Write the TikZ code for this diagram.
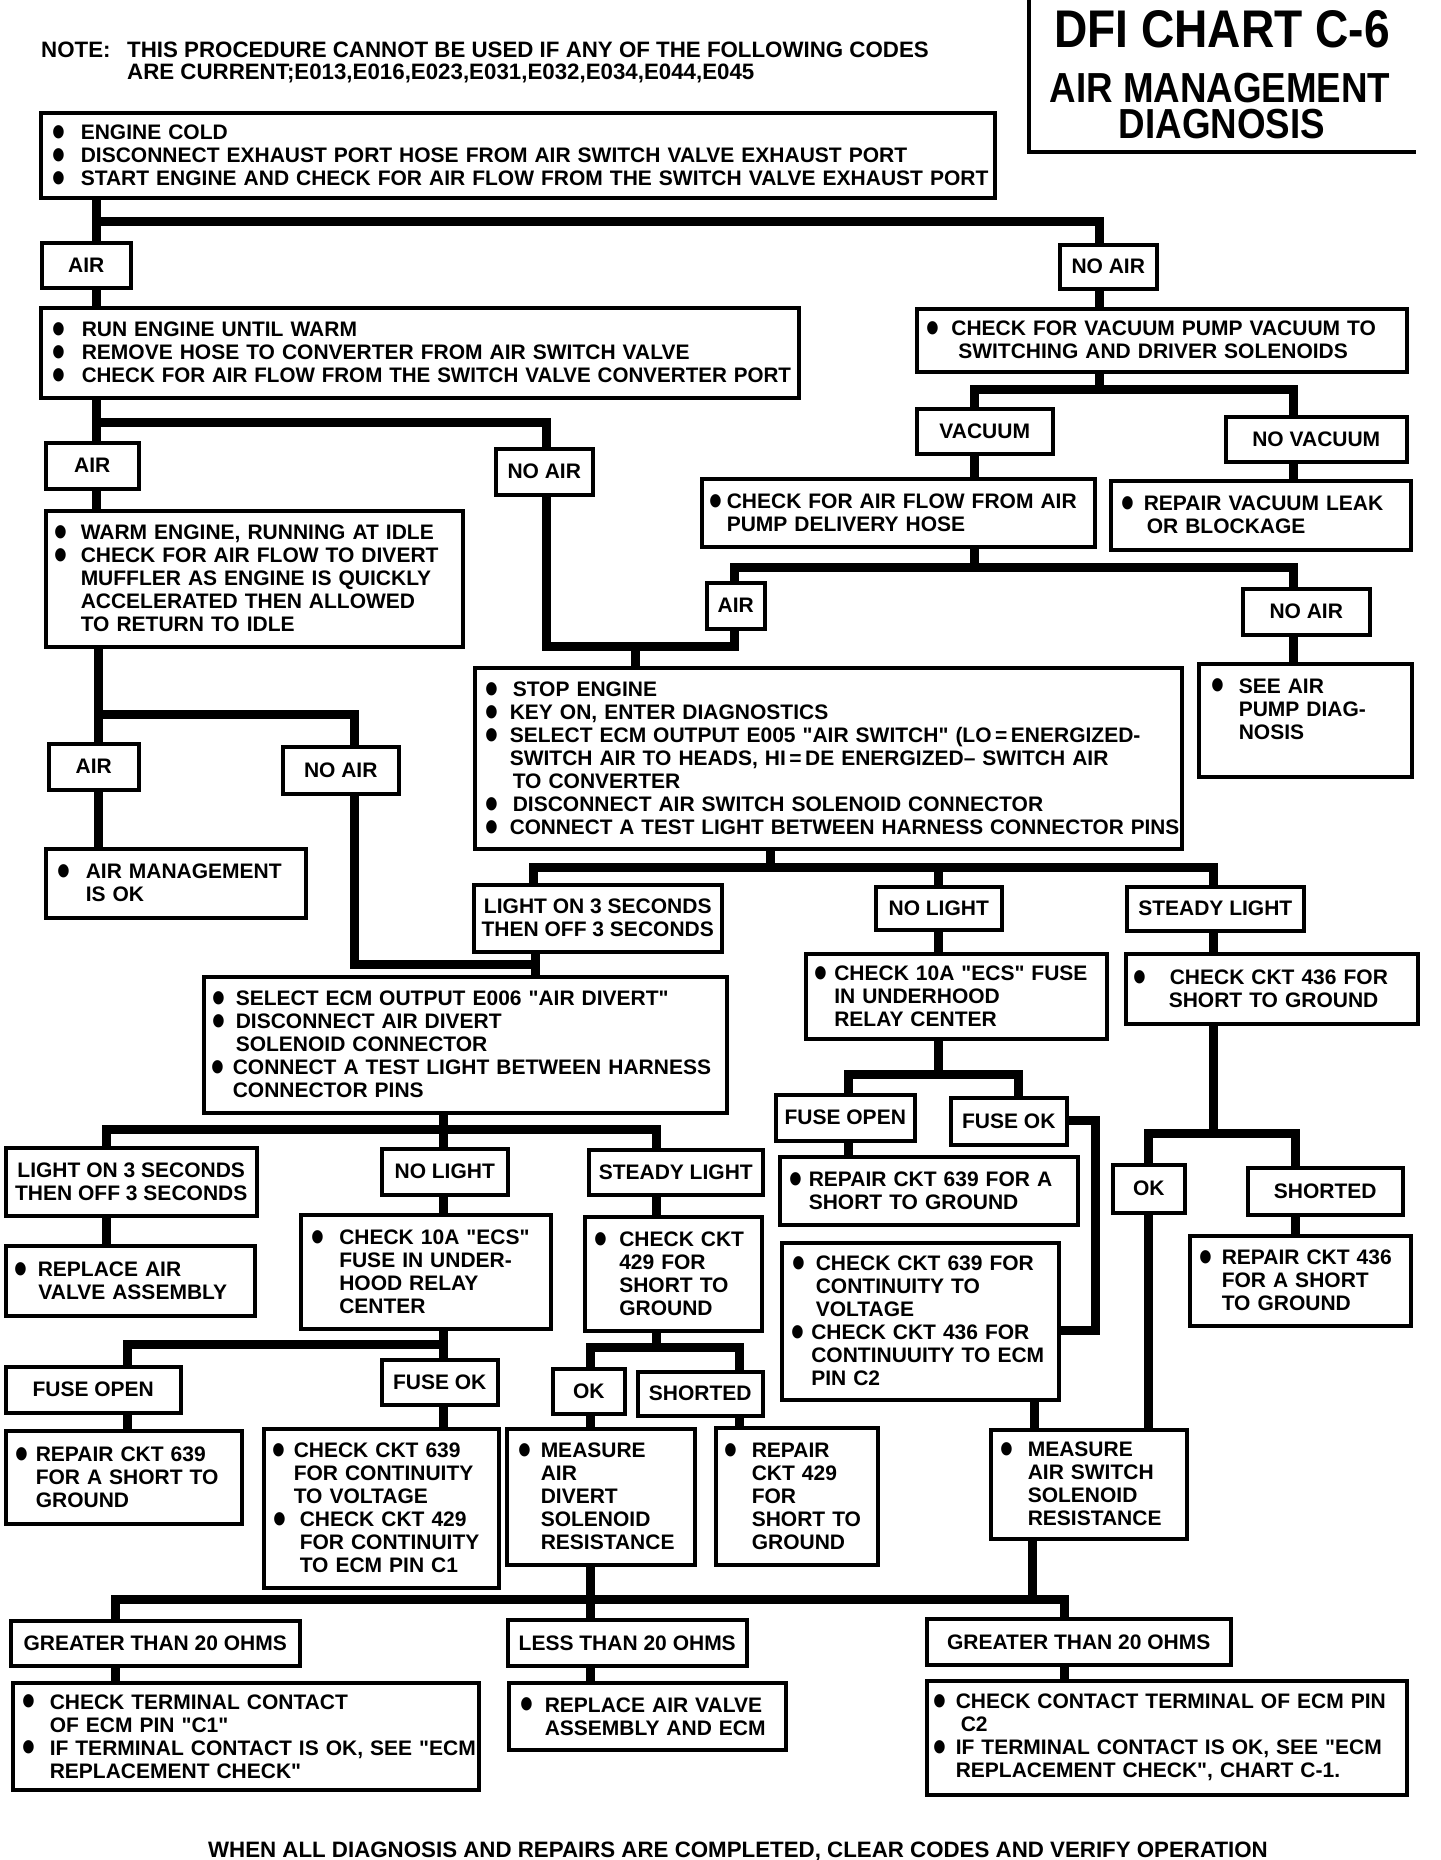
\documentclass[tikz,border=0pt]{standalone}
\usepackage{fontspec}
\setmainfont{Liberation Sans}[Ligatures=TeXOff]
\usepackage{graphicx}

\newcommand\boxfont{\bfseries\fontsize{21}{23}\selectfont}
\newcommand\blt{\smash{\raisebox{-0.37em}{\scalebox{1.75}[2.2]{\textbullet}}}}
\newcommand\itm[3]{\hspace*{#1pt}\makebox[10pt]{\blt}\hspace*{#2pt}\mbox{#3}}
\newcommand\ind[2]{\hspace*{#1pt}\mbox{#2}}

\begin{document}
\begin{tikzpicture}[x=1pt, y=-1pt,
  box/.style={draw, line width=3.5pt, anchor=north west, inner sep=0pt, align=left, font=\boxfont},
  lab/.style={draw, line width=3.5pt, anchor=north west, inner sep=0pt, align=center, font=\boxfont},
  link/.style={line width=9pt}]
\useasboundingbox (0,0) rectangle (1440,1860);

% Cabecera
\node[anchor=north west, inner sep=0pt, align=left, font=\bfseries\fontsize{22.3}{22}\selectfont] (note) at (41,42)
  {\makebox[86pt][l]{NOTE:}THIS PROCEDURE CANNOT BE USED IF ANY OF THE FOLLOWING CODES\\
   \ind{86}{ARE CURRENT;E013,E016,E023,E031,E032,E034,E044,E045}};
\draw[line width=4pt] (1029,0) -- (1029,152) -- (1416,152);
\node[anchor=base, inner sep=0pt, font=\bfseries\fontsize{53}{53}\selectfont] (title) at (1222,48) {\scalebox{0.87}[1]{DFI CHART C-6}};
\node[anchor=base, inner sep=0pt, font=\bfseries\fontsize{42}{42}\selectfont] (title2) at (1220,102) {\scalebox{0.875}[1]{AIR MANAGEMENT}};
\node[anchor=base, inner sep=0pt, font=\bfseries\fontsize{42}{42}\selectfont] (title3) at (1222,138) {\scalebox{0.875}[1]{DIAGNOSIS}};

% Cajas de resultado
\foreach \n/\x/\y/\w/\h/\t in {
    air1/40/241/89/45/AIR, noair1/1058/243/97/44/NO AIR,
    vac/915/407/136/45/VACUUM, novac/1224/415/181/45/NO VACUUM,
    air2/44/441/93/46/AIR, noair2/494/447/97/46/NO AIR,
    air4/705/581/58/46/AIR, noair4/1241/587/127/46/NO AIR,
    air3/47/742/90/46/AIR, noair3/281/745/116/47/NO AIR,
    light1/472/883/248/67/{LIGHT ON 3 SECONDS\\THEN OFF 3 SECONDS},
    nolight1/874/885/126/43/NO LIGHT, steady1/1125/885/177/44/STEADY LIGHT,
    fuseopen1/774/1093/139/46/FUSE OPEN, fuseok1/949/1096/116/47/FUSE OK,
    ok1/1111/1163/72/48/OK, shorted1/1246/1166/155/47/SHORTED,
    lighton2/4/1146/251/68/{LIGHT ON 3 SECONDS\\THEN OFF 3 SECONDS},
    nolight2/380/1147/126/46/NO LIGHT, steady2/587/1148/174/45/STEADY LIGHT,
    fuseopen2/4/1365/175/46/FUSE OPEN, fuseok2/380/1358/116/45/FUSE OK,
    ok2/551/1367/72/45/OK, shorted2/636/1370/125/44/SHORTED,
    gt1/9/1619/289/45/GREATER THAN 20 OHMS, lt/506/1618/239/46/LESS THAN 20 OHMS,
    gt2/925/1617/304/46/GREATER THAN 20 OHMS}
  \node[lab, minimum width=\w, minimum height=\h] (\n) at (\x,\y) {\t};

% Cajas de pasos
\node[box, text width=954pt, minimum height=85] (b1) at (39,111)
  {\itm{13}{17}{ENGINE COLD}\\
   \itm{13}{17}{DISCONNECT EXHAUST PORT HOSE FROM AIR SWITCH VALVE EXHAUST PORT}\\
   \itm{13}{17}{START ENGINE AND CHECK FOR AIR FLOW FROM THE SWITCH VALVE EXHAUST PORT}};
\node[box, text width=758pt, minimum height=90] (b2) at (39,306)
  {\itm{13}{18}{RUN ENGINE UNTIL WARM}\\
   \itm{13}{18}{REMOVE HOSE TO CONVERTER FROM AIR SWITCH VALVE}\\
   \itm{13}{18}{\scalebox{0.98}[1]{CHECK FOR AIR FLOW FROM THE SWITCH VALVE CONVERTER PORT}}};
\node[box, text width=490pt, minimum height=63] (b3) at (915,307)
  {\itm{11.6}{13}{CHECK FOR VACUUM PUMP VACUUM TO}\\
   \ind{41.5}{SWITCHING AND DRIVER SOLENOIDS}};
\node[box, text width=393pt, minimum height=68] (b6) at (700,477)
  {\itm{9}{6}{CHECK FOR AIR FLOW FROM AIR}\\
   \ind{25}{PUMP DELIVERY HOSE}};
\node[box, text width=300pt, minimum height=69] (b7) at (1109,479)
  {\itm{12}{11}{REPAIR VACUUM LEAK}\\
   \ind{36}{OR BLOCKAGE}};
\node[box, text width=417pt, minimum height=136] (b4) at (44,509)
  {\itm{10}{15}{WARM ENGINE, RUNNING AT IDLE}\\
   \itm{10}{15}{CHECK FOR AIR FLOW TO DIVERT}\\
   \ind{35}{MUFFLER AS ENGINE IS QUICKLY}\\
   \ind{35}{ACCELERATED THEN ALLOWED}\\
   \ind{35}{TO RETURN TO IDLE}};
\node[box, text width=213pt, minimum height=113] (seeair) at (1197,662)
  {\itm{14}{16}{SEE AIR}\\
   \ind{40}{PUMP DIAG-}\\
   \ind{40}{NOSIS}\\ \mbox{}};
\node[box, text width=707pt, minimum height=181] (b5) at (473,666)
  {\itm{12}{16}{STOP ENGINE}\\
   \itm{12}{13}{KEY ON, ENTER DIAGNOSTICS}\\
   \itm{12}{13}{SELECT ECM OUTPUT E005 "AIR SWITCH" (LO\,=\,ENERGIZED-}\\
   \ind{35}{SWITCH AIR TO HEADS, HI\,=\,DE ENERGIZED– SWITCH AIR}\\
   \ind{38}{TO CONVERTER}\\
   \itm{12}{16}{DISCONNECT AIR SWITCH SOLENOID CONNECTOR}\\
   \itm{12}{13}{\scalebox{0.99}[1]{CONNECT A TEST LIGHT BETWEEN HARNESS CONNECTOR PINS}}};
\node[box, text width=260pt, minimum height=69] (amok) at (44,847)
  {\itm{13}{17}{AIR MANAGEMENT}\\
   \ind{40}{IS OK}};
\node[box, text width=301pt, minimum height=85] (b10a1) at (804,952)
  {\itm{10}{8.5}{CHECK 10A "ECS" FUSE}\\
   \ind{28.5}{IN UNDERHOOD}\\
   \ind{28.5}{RELAY CENTER}};
\node[box, text width=292pt, minimum height=70] (b436) at (1124,952)
  {\itm{9}{25}{CHECK CKT 436 FOR}\\
   \ind{43}{SHORT TO GROUND}};
\node[box, text width=523pt, minimum height=136] (e006) at (202,975)
  {\itm{10}{12}{SELECT ECM OUTPUT E006 "AIR DIVERT"}\\
   \itm{10}{12}{DISCONNECT AIR DIVERT}\\
   \ind{32}{SOLENOID CONNECTOR}\\
   \itm{9}{10}{CONNECT A TEST LIGHT BETWEEN HARNESS}\\
   \ind{29}{CONNECTOR PINS}};
\node[box, text width=298pt, minimum height=68] (r639a) at (778,1155)
  {\itm{11}{8}{REPAIR CKT 639 FOR A}\\
   \ind{29}{SHORT TO GROUND}};
\node[box, text width=249pt, minimum height=70] (replav) at (4,1244)
  {\itm{10}{12}{REPLACE AIR}\\
   \ind{32.7}{VALVE ASSEMBLY}};
\node[box, text width=250pt, minimum height=114] (c10a2) at (299,1213)
  {\itm{12}{16.5}{CHECK 10A "ECS"}\\
   \ind{38.5}{FUSE IN UNDER-}\\
   \ind{38.5}{HOOD RELAY}\\
   \ind{38.5}{CENTER}};
\node[box, text width=177pt, minimum height=114] (c429) at (583,1215)
  {\itm{11}{13.5}{CHECK CKT}\\
   \ind{34.5}{429 FOR}\\
   \ind{34.5}{SHORT TO}\\
   \ind{34.5}{GROUND}};
\node[box, text width=221pt, minimum height=90] (r436) at (1188,1234)
  {\itm{11}{11}{REPAIR CKT 436}\\
   \ind{32}{FOR A SHORT}\\
   \ind{32}{TO GROUND}};
\node[box, text width=277pt, minimum height=157] (c639436) at (780,1241)
  {\itm{12}{12}{CHECK CKT 639 FOR}\\
   \ind{34}{CONTINUITY TO}\\
   \ind{34}{VOLTAGE}\\
   \itm{11}{8.5}{CHECK CKT 436 FOR}\\
   \ind{29.5}{CONTINUUITY TO ECM}\\
   \ind{29.5}{PIN C2}};
\node[box, text width=236pt, minimum height=93] (r639b) at (4,1429)
  {\itm{11}{9}{REPAIR CKT 639}\\
   \ind{30}{FOR A SHORT TO}\\
   \ind{30}{GROUND}};
\node[box, text width=235pt, minimum height=159] (c639429) at (262,1427)
  {\itm{10}{10}{CHECK CKT 639}\\
   \ind{30}{FOR CONTINUITY}\\
   \ind{30}{TO VOLTAGE}\\
   \itm{11}{15}{CHECK CKT 429}\\
   \ind{36}{FOR CONTINUITY}\\
   \ind{36}{TO ECM PIN C1}};
\node[box, text width=188pt, minimum height=136] (mad) at (505,1427)
  {\itm{13}{11}{MEASURE}\\
   \ind{34}{AIR}\\
   \ind{34}{DIVERT}\\
   \ind{34}{SOLENOID}\\
   \ind{34}{RESISTANCE}};
\node[box, text width=162pt, minimum height=137] (r429) at (714,1426)
  {\itm{10}{16}{REPAIR}\\
   \ind{36}{CKT 429}\\
   \ind{36}{FOR}\\
   \ind{36}{SHORT TO}\\
   \ind{36}{GROUND}};
\node[box, text width=196pt, minimum height=109] (mas) at (989,1428)
  {\itm{11}{16}{MEASURE}\\
   \ind{37}{AIR SWITCH}\\
   \ind{37}{SOLENOID}\\
   \ind{37}{RESISTANCE}};
\node[box, text width=466pt, minimum height=107] (ctc1) at (11,1681)
  {\itm{11.5}{15.5}{CHECK TERMINAL CONTACT}\\
   \ind{37}{OF ECM PIN "C1"}\\
   \itm{11.5}{15.5}{IF TERMINAL CONTACT IS OK, SEE "ECM}\\
   \ind{37}{REPLACEMENT CHECK"}};
\node[box, text width=277pt, minimum height=67] (rava) at (507,1681)
  {\itm{13}{13}{REPLACE AIR VALVE}\\
   \ind{36}{ASSEMBLY AND ECM}};
\node[box, text width=480pt, minimum height=114] (ctc2) at (925,1679)
  {\itm{8}{11}{CHECK CONTACT TERMINAL OF ECM PIN}\\
   \ind{34}{C2}\\
   \itm{8}{11}{IF TERMINAL CONTACT IS OK, SEE "ECM}\\
   \ind{29}{REPLACEMENT CHECK", CHART C-1.}};

\node[anchor=base, inner sep=0pt, font=\bfseries\fontsize{22.3}{22}\selectfont] (foot) at (738,1857)
  {WHEN ALL DIAGNOSIS AND REPAIRS ARE COMPLETED, CLEAR CODES AND VERIFY OPERATION};

% Uniones
\coordinate (j1a) at (96,221);   \coordinate (j1b) at (1099,221);
\coordinate (j2a) at (96,422);   \coordinate (j2b) at (546,422);
\coordinate (j3s) at (1099,389); \coordinate (j3a) at (974,389);  \coordinate (j3b) at (1293,389);
\coordinate (j4a) at (734,567);  \coordinate (j4b) at (1293,567);
\coordinate (j5a) at (546,646);  \coordinate (j5b) at (734,646);  \coordinate (j5s) at (635,646);
\coordinate (j6a) at (98,714);   \coordinate (j6b) at (354,714);
\coordinate (j7s) at (770,867);  \coordinate (j7a) at (533,867);  \coordinate (j7b) at (938,867);
\coordinate (j7c) at (1213,867);
\coordinate (j8a) at (354,964);  \coordinate (j8b) at (535,964);
\coordinate (j9a) at (106,1129); \coordinate (j9b) at (443,1129); \coordinate (j9c) at (656,1129);
\coordinate (j10a) at (127,1344); \coordinate (j10b) at (443,1344);
\coordinate (j11a) at (590,1347); \coordinate (j11b) at (739,1347);
\coordinate (j12a) at (848,1074); \coordinate (j12b) at (1018,1074);
\coordinate (j13a) at (1095,1120); \coordinate (j13b) at (1095,1330);
\coordinate (j14a) at (1148,1133); \coordinate (j14b) at (1295,1133);
\coordinate (j15) at (1034,1400);
\coordinate (j16a) at (115,1599); \coordinate (j16b) at (590,1599); \coordinate (j16c) at (1064,1599);
\coordinate (j16m) at (1032,1599);

\draw[link] (b1.south -| j1a) -- (air1.north -| j1a);
\draw[link] (j1a) -- (j1b) -- (noair1.north -| j1b);
\draw[link] (air1.south -| j1a) -- (b2.north -| j1a);
\draw[link] (noair1.south -| j1b) -- (b3.north -| j1b);

\draw[link] (b2.south -| j2a) -- (air2.north -| j2a);
\draw[link] (j2a) -- (j2b) -- (noair2.north -| j2b);
\draw[link] (air2.south -| j2a) -- (b4.north -| j2a);

\draw[link] (b3.south -| j3s) -- (j3s);
\draw[link] (vac.north -| j3a) -- (j3a) -- (j3b) -- (novac.north -| j3b);
\draw[link] (vac.south -| j3a) -- (b6.north -| j3a);
\draw[link] (novac.south -| j3b) -- (b7.north -| j3b);

\draw[link] (b6.south -| j3a) -- (j3a |- j4a);
\draw[link] (air4.north -| j4a) -- (j4a) -- (j4b) -- (noair4.north -| j4b);
\draw[link] (noair4.south -| j4b) -- (seeair.north -| j4b);

\draw[link] (noair2.south -| j5a) -- (j5a) -- (j5b) -- (air4.south -| j5b);
\draw[link] (j5s) -- (b5.north -| j5s);

\draw[link] (b4.south -| j6a) -- (air3.north -| j6a);
\draw[link] (j6a) -- (j6b) -- (noair3.north -| j6b);
\draw[link] (air3.south -| j6a) -- (amok.north -| j6a);

\draw[link] (b5.south -| j7s) -- (j7s);
\draw[link] (light1.north -| j7a) -- (j7a) -- (j7c) -- (steady1.north -| j7c);
\draw[link] (j7b) -- (nolight1.north -| j7b);
\draw[link] (nolight1.south -| j7b) -- (b10a1.north -| j7b);
\draw[link] (steady1.south -| j7c) -- (b436.north -| j7c);

\draw[link] (noair3.south -| j8a) -- (j8a) -- (j8b);
\draw[link] (light1.south -| j8b) -- (e006.north -| j8b);

\draw[link] (e006.south -| j9b) -- (nolight2.north -| j9b);
\draw[link] (lighton2.north -| j9a) -- (j9a) -- (j9c) -- (steady2.north -| j9c);
\draw[link] (lighton2.south -| j9a) -- (replav.north -| j9a);
\draw[link] (nolight2.south -| j9b) -- (c10a2.north -| j9b);
\draw[link] (steady2.south -| j9c) -- (c429.north -| j9c);

\draw[link] (c10a2.south -| j10b) -- (fuseok2.north -| j10b);
\draw[link] (j10b) -- (j10a) -- (fuseopen2.north -| j10a);
\draw[link] (fuseopen2.south -| j10a) -- (r639b.north -| j10a);
\draw[link] (fuseok2.south -| j10b) -- (c639429.north -| j10b);

\draw[link] (c429.south -| j9c) -- (j9c |- j11a);
\draw[link] (ok2.north -| j11a) -- (j11a) -- (j11b) -- (shorted2.north -| j11b);
\draw[link] (ok2.south -| j11a) -- (mad.north -| j11a);
\draw[link] (shorted2.south -| j11b) -- (r429.north -| j11b);

\draw[link] (b10a1.south -| j7b) -- (j7b |- j12a);
\draw[link] (fuseopen1.north -| j12a) -- (j12a) -- (j12b) -- (fuseok1.north -| j12b);
\draw[link] (fuseopen1.south -| j12a) -- (r639a.north -| j12a);
\draw[link] (fuseok1.east |- j13a) -- (j13a) -- (j13b) -- (c639436.east |- j13b);

\draw[link] (b436.south -| j7c) -- (j7c |- j14a);
\draw[link] (ok1.north -| j14a) -- (j14a) -- (j14b) -- (shorted1.north -| j14b);
\draw[link] (shorted1.south -| j14b) -- (r436.north -| j14b);
\draw[link] (ok1.south -| j14a) -- (mas.north -| j14a);
\draw[link] (c639436.south -| j15) -- (mas.north -| j15);

\draw[link] (mad.south -| j16b) -- (lt.north -| j16b);
\draw[link] (gt1.north -| j16a) -- (j16a) -- (j16c) -- (gt2.north -| j16c);
\draw[link] (mas.south -| j16m) -- (j16m);
\draw[link] (gt1.south -| j16a) -- (ctc1.north -| j16a);
\draw[link] (lt.south -| j16b) -- (rava.north -| j16b);
\draw[link] (gt2.south -| j16c) -- (ctc2.north -| j16c);
\end{tikzpicture}
\end{document}
